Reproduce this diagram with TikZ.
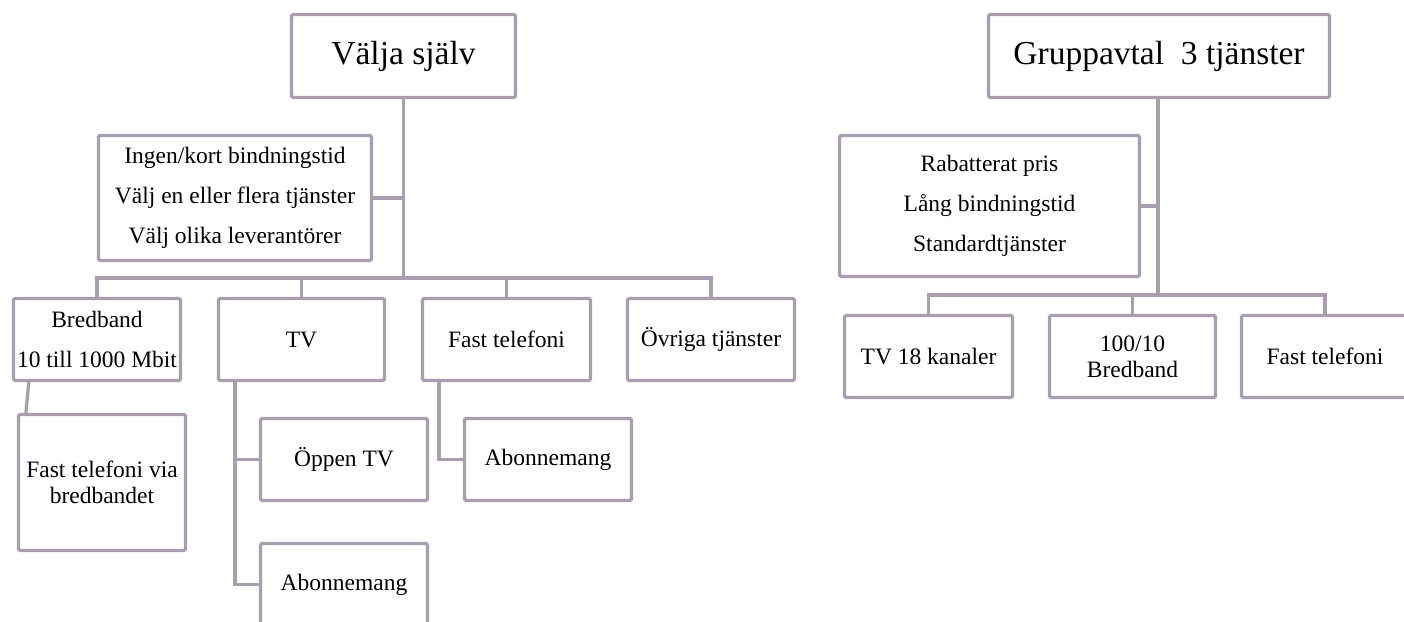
\documentclass[tikz,border=0pt]{standalone}
\usepackage{fontspec}
\setmainfont{Liberation Serif}
\definecolor{linec}{RGB}{168,158,176}
\tikzset{
  box/.style={draw=linec, line width=3.3pt, rounded corners=1.5pt, fill=white,
    align=center, inner sep=0pt, font=\fontsize{23.5}{26}\selectfont},
  titlebox/.style={box, font=\fontsize{33.5}{38}\selectfont},
  listbox/.style={box, font=\fontsize{23.5}{40}\selectfont},
  conn/.style={draw=linec, line width=3.3pt},
}
\begin{document}
\begin{tikzpicture}[x=1pt,y=-1pt]
\useasboundingbox (0,0) rectangle (1404,621);
% ---- left tree ----
\node[titlebox, minimum width=224, minimum height=83] (v) at (403.5,56) {Välja själv};
\node[listbox, minimum width=273, minimum height=125] (sl) at (235,198) {Ingen/kort bindningstid\\Välj en eller flera tjänster\\Välj olika leverantörer};
\node[listbox, minimum width=167, minimum height=82] (bb) at (97,339.5) {Bredband\\10 till 1000 Mbit};
\node[box, minimum width=166, minimum height=82] (tv) at (301.5,339.5) {TV};
\node[box, minimum width=168, minimum height=82] (ft) at (506.5,339.5) {Fast telefoni};
\node[box, minimum width=167, minimum height=82] (ov) at (711,339.5) {Övriga tjänster};
\node[box, minimum width=167, minimum height=136] (ftv) at (102,482.5) {Fast telefoni via\\bredbandet};
\node[box, minimum width=167, minimum height=82] (optv) at (344,459.5) {Öppen TV};
\node[box, minimum width=167, minimum height=82] (abtv) at (344,584.5) {Abonnemang};
\node[box, minimum width=167, minimum height=82] (abft) at (548,459.5) {Abonnemang};
\coordinate (barL) at (403.5,278);
\draw[conn] (v.south) -- (barL);
\draw[conn] (sl.east) -- (sl.east -| v.south);
\draw[conn] (bb.north) |- (barL) -| (ov.north);
\draw[conn] (tv.north) -- (tv.north |- barL);
\draw[conn] (ft.north) -- (ft.north |- barL);
\draw[conn] ([xshift=17pt]bb.south west) -- ([xshift=9pt]ftv.north west);
\draw[conn] ([xshift=18pt]tv.south west) |- (optv.west);
\draw[conn] ([xshift=18pt]tv.south west) |- (abtv.west);
\draw[conn] ([xshift=18pt]ft.south west) |- (abft.west);
% ---- right tree ----
\node[titlebox, minimum width=341, minimum height=83] (g) at (1159,56) {Gruppavtal\ \ 3 tjänster};
\node[listbox, minimum width=300, minimum height=141] (sr) at (989.5,206) {Rabatterat pris\\Lång bindningstid\\Standardtjänster};
\node[box, minimum width=168, minimum height=82] (tv18) at (928.5,356.5) {TV 18 kanaler};
\node[box, minimum width=166, minimum height=82] (bb100) at (1132.5,356.5) {100/10\\Bredband};
\node[box, minimum width=167, minimum height=82] (ftr) at (1325,356.5) {Fast telefoni};
\coordinate (barR) at (1158,295);
\draw[conn] (g.south -| barR) -- (barR);
\draw[conn] (sr.east) -- (sr.east -| barR);
\draw[conn] (tv18.north) |- (barR) -| (ftr.north);
\draw[conn] (bb100.north) -- (bb100.north |- barR);
\end{tikzpicture}
\end{document}
